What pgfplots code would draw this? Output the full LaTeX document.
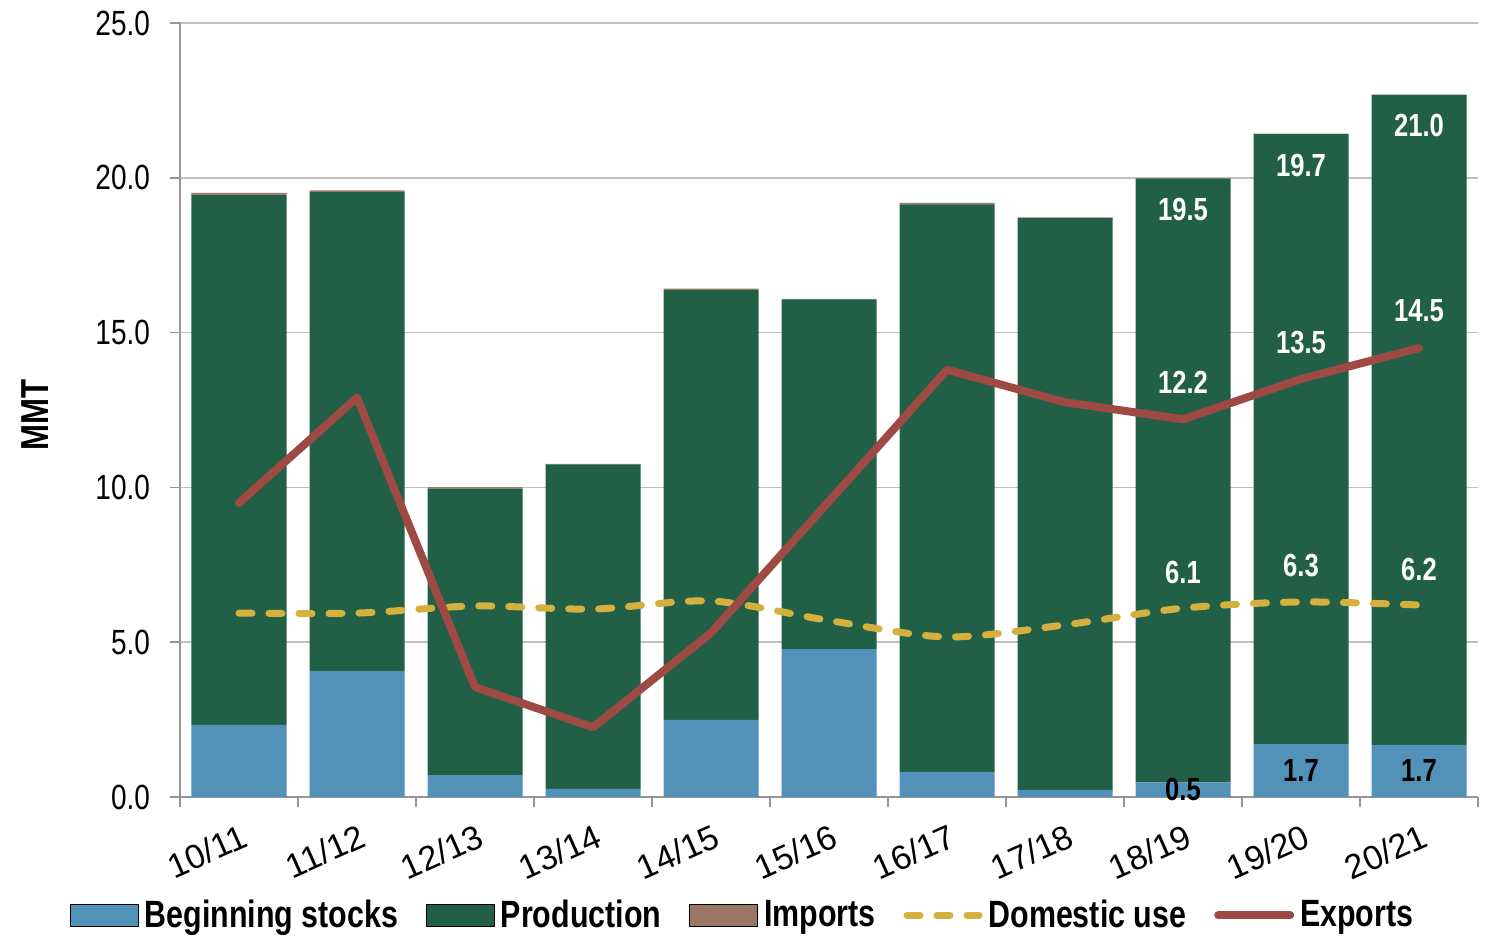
\documentclass[border=0pt]{standalone}
\usepackage{pgfplots}
\pgfplotsset{compat=1.18}
\usepackage{fontspec}
\setmainfont{Liberation Sans}[FakeStretch=0.8]
\newfontfamily\widefont{Liberation Sans}

\definecolor{stockc}{RGB}{82,146,184}
\definecolor{prodc}{RGB}{33,96,70}
\definecolor{impc}{RGB}{156,119,99}
\definecolor{domc}{RGB}{212,177,63}
\definecolor{expc}{RGB}{158,73,68}
\definecolor{axc}{RGB}{150,150,150}
\definecolor{gridc}{RGB}{192,192,192}

\pgfplotsset{
  common/.style={scale only axis, width=649pt, height=387pt,
    xmin=-0.5, xmax=10.5, ymin=0, ymax=25},
  boxlegend/.style={legend image code/.code={\fill[##1] (0pt,-5.5pt) rectangle (34pt,5.5pt);}},
  linelegend/.style={legend image code/.code={\draw[##1] (0pt,0pt) -- (36pt,0pt);}},
  lastlabels/.style={
    visualization depends on={x \as \rawx},
    nodes near coords={\ifdim\rawx pt>7.5pt\pgfmathprintnumber[fixed,fixed zerofill,precision=1,assume math mode=true]{\pgfplotspointmeta}\fi},
    every node near coord/.append style={font=\bfseries\fontsize{16}{18}\selectfont, text=#1}},
}

\begin{document}
\begin{tikzpicture}
% stacked bars
\begin{axis}[common, ybar stacked, bar width=47.5pt,
  axis lines=left, axis line style={-, axc, line width=0.8pt},
  tick align=outside, major tick length=5pt, tick style={axc, line width=0.8pt},
  ytick={0,5,...,25}, ymajorgrids, grid style={gridc, line width=0.8pt},
  yticklabel style={font=\fontsize{17.5}{19}\selectfont, xshift=-6.5pt,
    /pgf/number format/.cd, fixed, fixed zerofill, precision=1, assume math mode=true},
  xtick={-0.5,0.5,...,10.5}, xticklabels={},
  extra x ticks={0,1,...,10},
  extra x tick labels={10/11,11/12,12/13,13/14,14/15,15/16,16/17,17/18,18/19,19/20,20/21},
  extra x tick style={major tick length=0pt,
    tick label style={rotate=24, anchor=north east, xshift=-1.5pt, yshift=-8.5pt,
      font=\widefont\fontsize{17}{19}\selectfont}},
  ylabel={MMT},
  every axis y label/.style={at={(axis description cs:-0.1117,0.494)}, rotate=90, anchor=center,
    font=\bfseries\fontsize{19.5}{22}\selectfont},
]
\addplot[fill=stockc, draw=none, lastlabels=black]
  coordinates {(0,2.33) (1,4.07) (2,0.71) (3,0.26) (4,2.49) (5,4.78)
    (6,0.81) (7,0.23) (8,0.47) (9,1.71) (10,1.68)};
\addplot[fill=prodc, draw=none, lastlabels=white,
  visualization depends on={rawy \as \rawprod},
  every node near coord/.append style={anchor=center, yshift={7.74pt*\rawprod-15.5pt}}]
  coordinates {(0,17.13) (1,15.47) (2,9.25) (3,10.48) (4,13.88) (5,11.29)
    (6,18.33) (7,18.47) (8,19.5) (9,19.7) (10,21.0)};
\addplot[fill=impc, draw=none]
  coordinates {(0,0.05) (1,0.05) (2,0.05) (3,0.02) (4,0.05) (5,0.02)
    (6,0.05) (7,0.02) (8,0.02) (9,0.02) (10,0.01)};
\end{axis}
% lines
\begin{axis}[common, hide axis,
  legend columns=5,
  legend style={at={(0.435,-0.125)}, anchor=north, draw=none, fill=none,
    font=\bfseries\fontsize{19}{22}\selectfont, inner sep=0pt,
    nodes={inner sep=3pt},
    /tikz/every even column/.append style={column sep=11pt}},
]
\addlegendimage{boxlegend, fill=stockc}
\addlegendentry{Beginning stocks}
\addlegendimage{boxlegend, fill=prodc}
\addlegendentry{Production}
\addlegendimage{boxlegend, fill=impc}
\addlegendentry{Imports}
\addplot[domc, line width=3.5pt, dash pattern=on 6.5pt off 8.5pt, line cap=round,
  smooth, tension=0.5, linelegend, lastlabels=white,
  every node near coord/.append style={anchor=center, yshift=18pt}]
  coordinates {(0,5.94) (1,5.94) (2,6.17) (3,6.07) (4,6.33) (5,5.7)
    (6,5.17) (7,5.56) (8,6.1) (9,6.3) (10,6.2)};
\addlegendentry{Domestic use}
\addplot[expc, line width=4pt, line join=round, line cap=round, linelegend, lastlabels=white,
  every node near coord/.append style={anchor=center, yshift=18.5pt}]
  coordinates {(0,9.5) (1,12.9) (2,3.55) (3,2.25) (4,5.3) (5,9.55)
    (6,13.8) (7,12.75) (8,12.2) (9,13.5) (10,14.5)};
\addlegendentry{Exports}
\end{axis}
\pgfresetboundingbox
\path[use as bounding box] (-90pt,-74pt) rectangle (653pt,398.5pt);
\end{tikzpicture}
\end{document}
